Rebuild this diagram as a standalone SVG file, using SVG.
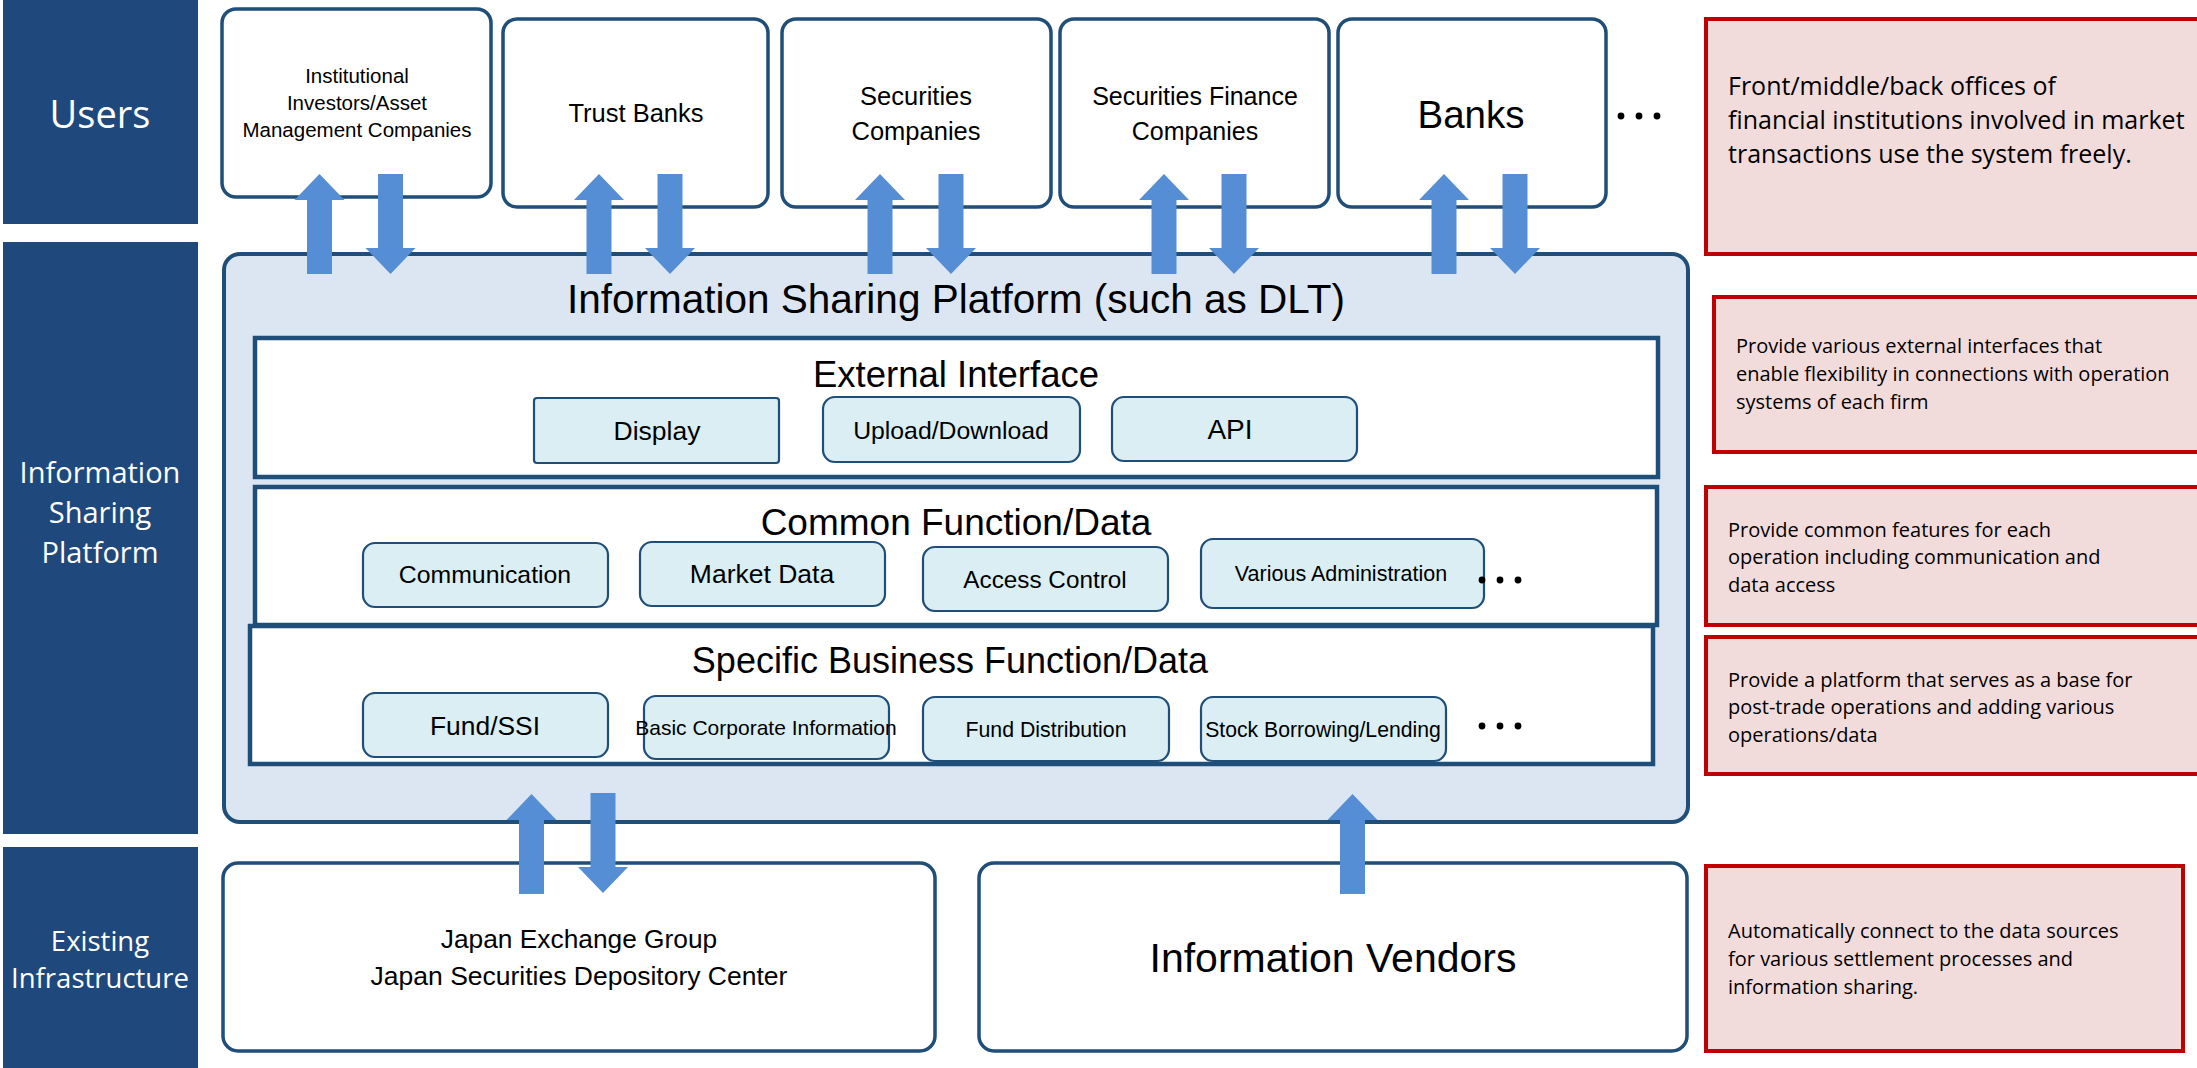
<svg xmlns="http://www.w3.org/2000/svg" width="2197" height="1068" viewBox="0 0 2197 1068">
<style>
.lab{fill:#1F497D}
.labt{font-family:"Open Sans","DejaVu Sans",sans-serif;fill:#fff;text-anchor:middle}
.node{fill:#fff;stroke:#1F4E79;stroke-width:3.5}
.nt{font-family:"Liberation Sans",Arial,sans-serif;fill:#000;text-anchor:middle}
.plat{fill:#DCE6F2;stroke:#1F4E79;stroke-width:4}
.layer{fill:#fff;stroke:#1F4E79;stroke-width:4.5}
.sub{fill:#DAEEF3;stroke:#1F4E79;stroke-width:2.2}
.note{fill:#F2DCDB;stroke:#C00000;stroke-width:4}
.notet{font-family:"Open Sans","DejaVu Sans",sans-serif;fill:#000}
.arr{fill:#558ED5}
.dot{fill:#000}
</style>
<defs>
<polygon id="up" points="0,0 25,26 12.5,26 12.5,100 -12.5,100 -12.5,26 -25,26"/>
<polygon id="down" points="-12.5,0 12.5,0 12.5,74 25,74 0,100 -25,74 -12.5,74"/>
<g id="dots"><circle cx="0" cy="0" r="3.4"/><circle cx="18" cy="0" r="3.4"/><circle cx="36" cy="0" r="3.4"/></g>
</defs>
<rect width="2197" height="1068" fill="#fff"/>

<g id="label-users"><rect class="lab" x="3" y="0" width="195" height="224"/><text class="labt" x="100" y="128" font-size="38">Users</text></g>
<g id="label-platform"><rect class="lab" x="3" y="242" width="195" height="592"/><text class="labt" x="100" y="483" font-size="29">Information</text><text class="labt" x="100" y="523" font-size="29">Sharing</text><text class="labt" x="100" y="563" font-size="29">Platform</text></g>
<g id="label-infra"><rect class="lab" x="3" y="847" width="195" height="221"/><text class="labt" x="100" y="951" font-size="27.5">Existing</text><text class="labt" x="100" y="988" font-size="27.5">Infrastructure</text></g>

<g id="user-institutional"><rect class="node" x="222" y="9" width="269" height="188" rx="14"/><text class="nt" x="357" y="83" font-size="20.5">Institutional</text><text class="nt" x="357" y="110" font-size="20.5">Investors/Asset</text><text class="nt" x="357" y="137" font-size="20.5">Management Companies</text></g>
<g id="user-trust"><rect class="node" x="503" y="19" width="265" height="188" rx="14"/><text class="nt" x="636" y="122" font-size="25.5">Trust Banks</text></g>
<g id="user-securities"><rect class="node" x="782" y="19" width="269" height="188" rx="14"/><text class="nt" x="916" y="105" font-size="25.5">Securities</text><text class="nt" x="916" y="140" font-size="25.5">Companies</text></g>
<g id="user-secfinance"><rect class="node" x="1060" y="19" width="269" height="188" rx="14"/><text class="nt" x="1195" y="105" font-size="25">Securities Finance</text><text class="nt" x="1195" y="140" font-size="25">Companies</text></g>
<g id="user-banks"><rect class="node" x="1338" y="19" width="268" height="188" rx="14"/><text class="nt" x="1471" y="128" font-size="38.5">Banks</text></g>
<use href="#dots" x="1621" y="116" class="dot"/>

<g id="platform">
<rect class="plat" x="224" y="254" width="1464" height="568" rx="16"/>
<text class="nt" x="956" y="313" font-size="40.5">Information Sharing Platform (such as DLT)</text>
</g>

<g id="external-interface">
<rect class="layer" x="255" y="338" width="1403" height="139"/>
<text class="nt" x="956" y="387" font-size="36.5">External Interface</text>
<g id="display"><rect class="sub" x="534" y="398" width="245" height="65" rx="3"/><text class="nt" x="657" y="440" font-size="26.5">Display</text></g>
<g id="updown"><rect class="sub" x="823" y="397" width="257" height="65" rx="12"/><text class="nt" x="951" y="439" font-size="24.8">Upload/Download</text></g>
<g id="api"><rect class="sub" x="1112" y="397" width="245" height="64" rx="12"/><text class="nt" x="1230" y="439" font-size="28">API</text></g>
</g>

<g id="common-function">
<rect class="layer" x="255" y="487" width="1402" height="138"/>
<text class="nt" x="956" y="535" font-size="37">Common Function/Data</text>
<g id="communication"><rect class="sub" x="363" y="543" width="245" height="64" rx="12"/><text class="nt" x="485" y="583" font-size="24.8">Communication</text></g>
<g id="marketdata"><rect class="sub" x="640" y="542" width="245" height="64" rx="12"/><text class="nt" x="762" y="583" font-size="26.5">Market Data</text></g>
<g id="access"><rect class="sub" x="923" y="547" width="245" height="64" rx="12"/><text class="nt" x="1045" y="588" font-size="24.3">Access Control</text></g>
<g id="admin"><rect class="sub" x="1201" y="539" width="283" height="69" rx="12"/><text class="nt" x="1341" y="581" font-size="21.5">Various Administration</text></g>
<use href="#dots" x="1482" y="580" class="dot"/>
</g>

<g id="specific-business">
<rect class="layer" x="250" y="626" width="1403" height="138"/>
<text class="nt" x="950" y="673" font-size="36">Specific Business Function/Data</text>
<g id="fundssi"><rect class="sub" x="363" y="693" width="245" height="64" rx="12"/><text class="nt" x="485" y="735" font-size="26.4">Fund/SSI</text></g>
<g id="basiccorp"><rect class="sub" x="644" y="696" width="245" height="63" rx="12"/><text class="nt" x="766" y="735" font-size="21">Basic Corporate Information</text></g>
<g id="funddist"><rect class="sub" x="923" y="697" width="246" height="64" rx="12"/><text class="nt" x="1046" y="737" font-size="21.3">Fund Distribution</text></g>
<g id="stock"><rect class="sub" x="1201" y="697" width="245" height="64" rx="12"/><text class="nt" x="1323" y="737" font-size="21.2">Stock Borrowing/Lending</text></g>
<use href="#dots" x="1482" y="726" class="dot"/>
</g>

<g id="infra-jpx"><rect class="node" x="223" y="863" width="712" height="188" rx="15"/><text class="nt" x="579" y="948" font-size="26.3">Japan Exchange Group</text><text class="nt" x="579" y="985" font-size="26.5">Japan Securities Depository Center</text></g>
<g id="infra-vendors"><rect class="node" x="979" y="863" width="708" height="188" rx="15"/><text class="nt" x="1333" y="972" font-size="41">Information Vendors</text></g>

<g id="notes">
<g id="note-users"><rect class="note" x="1706" y="19" width="500" height="235"/><text class="notet" x="1728" y="95" font-size="25">Front/middle/back offices of</text><text class="notet" x="1728" y="129" font-size="25">financial institutions involved in market</text><text class="notet" x="1728" y="163" font-size="25">transactions use the system freely.</text></g>
<g id="note-external"><rect class="note" x="1714" y="297" width="492" height="155"/><text class="notet" x="1736" y="353" font-size="20">Provide various external interfaces that</text><text class="notet" x="1736" y="381" font-size="20">enable flexibility in connections with operation</text><text class="notet" x="1736" y="409" font-size="20">systems of each firm</text></g>
<g id="note-common"><rect class="note" x="1706" y="487" width="500" height="138"/><text class="notet" x="1728" y="537" font-size="20">Provide common features for each</text><text class="notet" x="1728" y="564" font-size="20">operation including communication and</text><text class="notet" x="1728" y="592" font-size="20">data access</text></g>
<g id="note-specific"><rect class="note" x="1706" y="637" width="500" height="137"/><text class="notet" x="1728" y="687" font-size="20">Provide a platform that serves as a base for</text><text class="notet" x="1728" y="714" font-size="20">post-trade operations and adding various</text><text class="notet" x="1728" y="742" font-size="20">operations/data</text></g>
<g id="note-infra"><rect class="note" x="1706" y="866" width="477" height="185"/><text class="notet" x="1728" y="938" font-size="20">Automatically connect to the data sources</text><text class="notet" x="1728" y="966" font-size="20">for various settlement processes and</text><text class="notet" x="1728" y="994" font-size="20">information sharing.</text></g>
</g>

<g id="connectors" class="arr">
<use href="#up" x="319.5" y="174"/><use href="#down" x="390.5" y="174"/>
<use href="#up" x="599" y="174"/><use href="#down" x="670" y="174"/>
<use href="#up" x="880" y="174"/><use href="#down" x="951" y="174"/>
<use href="#up" x="1164" y="174"/><use href="#down" x="1234" y="174"/>
<use href="#up" x="1444" y="174"/><use href="#down" x="1515" y="174"/>
<use href="#up" x="531.5" y="794"/><use href="#down" x="603" y="793"/>
<use href="#up" x="1352.5" y="794"/>
</g>
</svg>
